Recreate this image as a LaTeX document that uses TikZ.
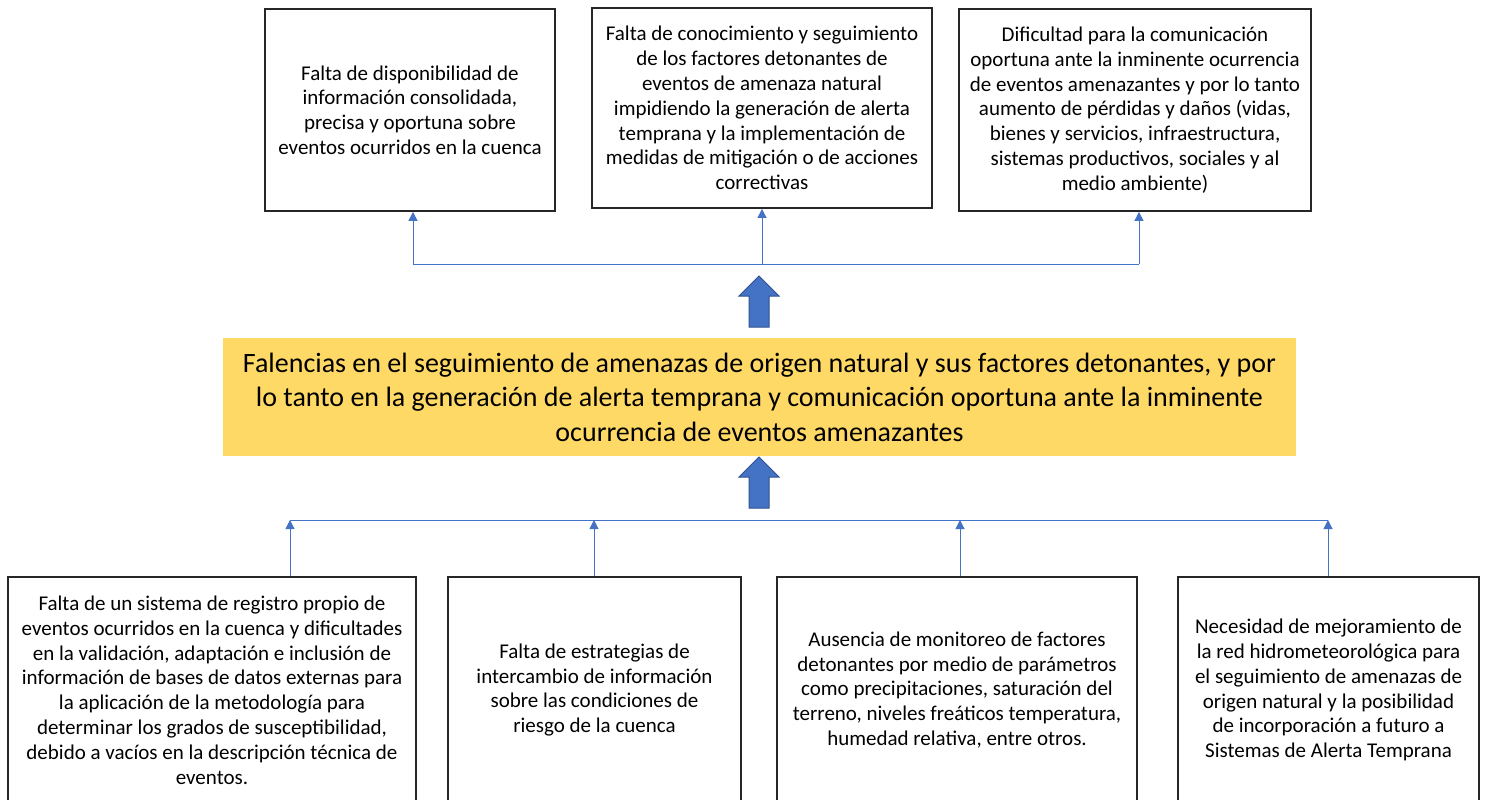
\documentclass[tikz,border=0pt]{standalone}
\usepackage{fontspec}
\setmainfont{Carlito}
\usetikzlibrary{arrows.meta,calc}
\definecolor{connblue}{HTML}{4472C4}
\definecolor{arrowedge}{HTML}{2F528F}
\definecolor{mainyellow}{HTML}{FFD966}
\tikzset{
  txtbox/.style={draw=black!85, line width=1.8pt, align=center, inner sep=0pt,
    font=\fontsize{21}{24.8}\selectfont},
  mainbox/.style={fill=mainyellow, draw=none, align=center, inner sep=0pt,
    font=\fontsize{28}{34.5}\selectfont},
  conn/.style={draw=connblue, line width=1pt},
  connarrow/.style={conn, -{Triangle[width=9pt,length=9pt]}},
  bigarrow/.style={fill=connblue, draw=arrowedge, line width=1pt}
}
\begin{document}
\begin{tikzpicture}[x=1pt,y=-1pt]
\useasboundingbox (0,0) rectangle (1486,800);
% top boxes
\node[txtbox, minimum width=290pt, minimum height=202pt] (t1) at (410,110)
 {Falta de disponibilidad de\\información consolidada,\\precisa y oportuna sobre\\eventos ocurridos en la cuenca};
\node[txtbox, minimum width=340pt, minimum height=200pt] (t2) at (762,108)
 {Falta de conocimiento y seguimiento\\de los factores detonantes de\\eventos de amenaza natural\\impidiendo la generación de alerta\\temprana y la implementación de\\medidas de mitigación o de acciones\\correctivas};
\node[txtbox, minimum width=352pt, minimum height=202pt] (t3) at (1135,110)
 {Dificultad para la comunicación\\oportuna ante la inminente ocurrencia\\de eventos amenazantes y por lo tanto\\aumento de pérdidas y daños (vidas,\\bienes y servicios, infraestructura,\\sistemas productivos, sociales y al\\medio ambiente)};
% main box
\node[mainbox, minimum width=1073pt, minimum height=118pt] (m) at (759.5,397)
 {Falencias en el seguimiento de amenazas de origen natural y sus factores detonantes, y por\\lo tanto en la generación de alerta temprana y comunicación oportuna ante la inminente\\ocurrencia de eventos amenazantes};
% bottom boxes
\node[txtbox, minimum width=408pt, minimum height=226pt] (b1) at (212,690)
 {Falta de un sistema de registro propio de\\eventos ocurridos en la cuenca y dificultades\\en la validación, adaptación e inclusión de\\información de bases de datos externas para\\la aplicación de la metodología para\\determinar los grados de susceptibilidad,\\debido a vacíos en la descripción técnica de\\eventos.};
\node[txtbox, minimum width=293pt, minimum height=226pt] (b2) at (594.5,690)
 {Falta de estrategias de\\intercambio de información\\sobre las condiciones de\\riesgo de la cuenca};
\node[txtbox, minimum width=360pt, minimum height=226pt] (b3) at (957,690)
 {Ausencia de monitoreo de factores\\detonantes por medio de parámetros\\como precipitaciones, saturación del\\terreno, niveles freáticos temperatura,\\humedad relativa, entre otros.};
\node[txtbox, minimum width=301pt, minimum height=226pt] (b4) at (1328.5,690)
 {Necesidad de mejoramiento de\\la red hidrometeorológica para\\el seguimiento de amenazas de\\origen natural y la posibilidad\\de incorporación a futuro a\\Sistemas de Alerta Temprana};
% top connectors
\coordinate (tj1) at (413,264);
\coordinate (tj2) at (762,264);
\coordinate (tj3) at (1139,264);
\draw[conn] (tj1) -- (tj3);
\draw[connarrow] (tj1) -- (tj1 |- t1.south);
\draw[connarrow] (tj2) -- (tj2 |- t2.south);
\draw[connarrow] (tj3) -- (tj3 |- t3.south);
% bottom connectors
\coordinate (bj1) at (290,520);
\coordinate (bj2) at (594,520);
\coordinate (bj3) at (960,520);
\coordinate (bj4) at (1328,520);
\draw[conn] (bj1) -- (bj4);
\draw[connarrow] (bj1 |- b1.north) -- (bj1);
\draw[connarrow] (bj2 |- b2.north) -- (bj2);
\draw[connarrow] (bj3 |- b3.north) -- (bj3);
\draw[connarrow] (bj4 |- b4.north) -- (bj4);
% big block arrows
\coordinate (ua) at (759,327);
\draw[bigarrow] ($(ua)+(-10,0)$) -- ++(0,-31) -- ++(-10,0) -- ++(20,-20) -- ++(20,20) -- ++(-10,0) -- ++(0,31) -- cycle;
\coordinate (la) at (759,508);
\draw[bigarrow] ($(la)+(-10,0)$) -- ++(0,-31) -- ++(-10,0) -- ++(20,-20) -- ++(20,20) -- ++(-10,0) -- ++(0,31) -- cycle;
\end{tikzpicture}
\end{document}
